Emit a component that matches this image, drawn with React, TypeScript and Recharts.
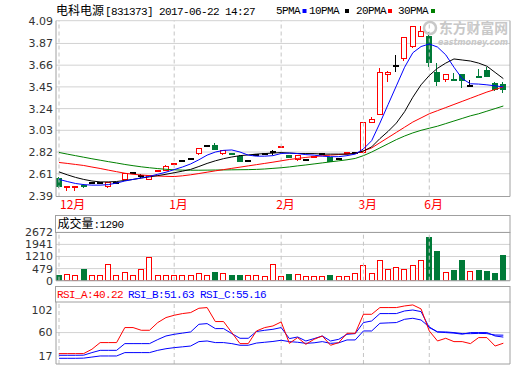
import React from 'react';
import { ComposedChart, Bar, Line, XAxis, YAxis, CartesianGrid, ReferenceLine } from 'recharts';

// ---------- data ----------
const MONTH_IDX = [0, 14, 27, 37, 45];
const MONTH_LABELS = ['12月', '1月', '2月', '3月', '6月'];

const OPEN = [
  2.565, 2.483, 2.483, 2.505, 2.53, 2.53, 2.49, 2.535, 2.555, 2.625,
  2.6, 2.557, 2.638, 2.651, 2.7, 2.74, 2.758, 2.812, 2.887, 2.887,
  2.808, 2.812, 2.782, 2.741, 2.798, 2.81, 2.83, 2.868, 2.79, 2.75,
  2.748, 2.78, 2.806, 2.775, 2.763, 2.818, 2.82, 2.822, 3.115, 3.184,
  3.575, 3.66, 3.726, 3.85, 3.945, 3.94, 3.59, 3.523, 3.528, 3.574,
  3.473, 3.56, 3.612, 3.484, 3.477,
];
const CLOSE = [
  2.49, 2.487, 2.487, 2.5, 2.53, 2.53, 2.53, 2.535, 2.613, 2.625,
  2.6, 2.596, 2.645, 2.683, 2.71, 2.74, 2.758, 2.855, 2.887, 2.845,
  2.836, 2.804, 2.735, 2.741, 2.798, 2.81, 2.83, 2.876, 2.77, 2.79,
  2.748, 2.786, 2.806, 2.732, 2.763, 2.825, 2.82, 3.106, 3.14, 3.59,
  3.597, 3.66, 3.928, 4.04, 3.99, 3.69, 3.51, 3.574, 3.523, 3.516,
  3.473, 3.555, 3.555, 3.43, 3.43,
];
const HIGH = [
  2.575, 2.487, 2.487, 2.515, 2.53, 2.53, 2.53, 2.535, 2.622, 2.625,
  2.605, 2.6, 2.645, 2.69, 2.71, 2.74, 2.758, 2.855, 2.887, 2.91,
  2.836, 2.815, 2.79, 2.741, 2.798, 2.81, 2.84, 2.876, 2.79, 2.79,
  2.748, 2.786, 2.806, 2.775, 2.763, 2.825, 2.82, 3.106, 3.155, 3.63,
  3.6, 3.755, 3.928, 4.04, 4.04, 3.98, 3.68, 3.574, 3.58, 3.574,
  3.516, 3.62, 3.645, 3.5, 3.5,
];
const LOW = [
  2.485, 2.45, 2.45, 2.485, 2.53, 2.53, 2.48, 2.535, 2.555, 2.625,
  2.58, 2.555, 2.638, 2.65, 2.7, 2.74, 2.758, 2.8, 2.887, 2.845,
  2.805, 2.8, 2.735, 2.741, 2.798, 2.81, 2.8, 2.868, 2.77, 2.745,
  2.748, 2.78, 2.806, 2.73, 2.763, 2.818, 2.82, 2.82, 3.106, 3.184,
  3.51, 3.6, 3.71, 3.84, 3.945, 3.65, 3.47, 3.505, 3.523, 3.45,
  3.473, 3.555, 3.555, 3.42, 3.4,
];
const VOLUME = [
  80, 140, 80, 440, 80, 80, 745, 80, 260, 80,
  440, 1150, 80, 80, 80, 80, 80, 200, 80, 280,
  200, 80, 80, 80, 80, 60, 745, 60, 140, 140,
  60, 60, 60, 80, 60, 60, 200, 685, 200, 985,
  485, 565, 485, 685, 985, 2393, 1530, 260, 400, 985,
  320, 400, 340, 220, 1290,
];
const MA5 = [
  2.555, 2.535, 2.516, 2.505, 2.5, 2.5, 2.505, 2.52, 2.54, 2.555,
  2.57, 2.585, 2.605, 2.625, 2.65, 2.675, 2.705, 2.745, 2.79, 2.82,
  2.836, 2.84, 2.82, 2.79, 2.78, 2.78, 2.785, 2.806, 2.81, 2.805,
  2.795, 2.79, 2.78, 2.775, 2.775, 2.785, 2.8, 2.85, 2.93, 3.1,
  3.28, 3.46, 3.64, 3.78, 3.84, 3.865, 3.835, 3.76, 3.64, 3.53,
  3.48, 3.477, 3.47, 3.46, 3.45,
];
const MA10 = [
  2.628, 2.6, 2.575, 2.555, 2.54, 2.531, 2.531, 2.535, 2.545, 2.555,
  2.568, 2.58, 2.592, 2.605, 2.62, 2.635, 2.652, 2.68, 2.71, 2.735,
  2.756, 2.772, 2.785, 2.792, 2.8, 2.805, 2.81, 2.815, 2.81, 2.806,
  2.805, 2.805, 2.8, 2.8, 2.8, 2.8, 2.806, 2.83, 2.87, 2.95,
  3.02, 3.1, 3.21, 3.35, 3.47, 3.56, 3.63, 3.68, 3.72, 3.71,
  3.7, 3.68, 3.65, 3.59, 3.53,
];
const MA20 = [
  2.719, 2.71, 2.7, 2.69, 2.675, 2.661, 2.645, 2.63, 2.615, 2.605,
  2.598, 2.592, 2.588, 2.585, 2.583, 2.59, 2.6, 2.612, 2.625, 2.638,
  2.65, 2.662, 2.674, 2.686, 2.698, 2.71, 2.722, 2.735, 2.748, 2.758,
  2.768, 2.776, 2.784, 2.79, 2.796, 2.8, 2.806, 2.83, 2.86, 2.91,
  2.96, 3.01, 3.06, 3.11, 3.15, 3.19, 3.22, 3.25, 3.28, 3.31,
  3.34, 3.37, 3.4, 3.425, 3.45,
];
const MA30 = [
  2.816, 2.8, 2.785, 2.77, 2.755, 2.741, 2.727, 2.714, 2.7, 2.688,
  2.677, 2.668, 2.66, 2.653, 2.648, 2.645, 2.644, 2.644, 2.645, 2.646,
  2.647, 2.648, 2.649, 2.65, 2.652, 2.656, 2.662, 2.668, 2.676, 2.686,
  2.695, 2.705, 2.715, 2.725, 2.735, 2.745, 2.758, 2.785, 2.82, 2.86,
  2.9, 2.94, 2.975, 3.005, 3.03, 3.05, 3.07, 3.095, 3.12, 3.145,
  3.17, 3.19, 3.215, 3.24, 3.265,
];
const RSI_A = [
  20.9, 20.9, 20.9, 21, 29, 41.4, 41.4, 41.4, 69.3, 69.3,
  64.3, 64.3, 78.6, 87.9, 92.2, 95.3, 97.2, 105.2, 106.5, 80.5,
  80.5, 60, 39.5, 39.5, 63, 69.3, 72.3, 79.8, 40, 50.7,
  38.2, 47.5, 53.7, 36.4, 41.4, 58.7, 58.7, 94, 94, 106.5,
  106.5, 106.5, 109.5, 111.4, 104, 63, 44.4, 49.4, 43.2, 43.2,
  39.5, 50.7, 50.7, 35, 40.22,
];
const RSI_B = [
  17.8, 17.8, 17.8, 18, 22.8, 27, 27, 27, 39.5, 39.5,
  39.5, 39.5, 47, 53.7, 56.8, 59, 61.2, 75.4, 76.7, 67.4,
  67.4, 58.1, 49.4, 49.4, 62, 64.3, 66.1, 69.3, 48.8, 51.8,
  44.4, 48.8, 53.7, 44.4, 47.5, 56.8, 58.1, 78.6, 81.6, 95.3,
  95.3, 95.3, 100.2, 102, 99, 69.3, 61.2, 60, 59, 57,
  60, 60, 60, 53.7, 51.63,
];
const RSI_C = [
  12.2, 12.2, 12.2, 12.5, 14.5, 16.5, 16.5, 16.5, 22.8, 22.8,
  22.8, 22.8, 27, 30, 32, 33.5, 35, 43.2, 44.4, 41.4,
  41.4, 39.5, 36.4, 36.4, 40.5, 42, 43.5, 45.7, 43.2, 42,
  40, 41, 43.2, 40, 41, 46.3, 46.3, 63, 63, 77.3,
  78, 78.6, 84.7, 86.6, 83.4, 70.4, 61.2, 61.2, 60, 58.1,
  58, 58.5, 58.1, 55.5, 55.16,
];

const PRICE_TICK_LABELS = ['2.39', '2.61', '2.82', '3.03', '3.24', '3.45', '3.66', '3.87', '4.09'];
const VOL_TICKS = [-252, 479, 1210, 1941, 2672];
const VOL_TICK_LABELS = ['0', '479', '1210', '1941', '2672'];
const RSI_TICKS = [17, 60, 102];
const RSI_GRID = [60];

const TITLE_NAME = '电科电源';
const TITLE_REST = '[831373] 2017-06-22 14:27';

// ---------- styling ----------
const RED = '#ff0000';
const GREEN = '#007a38';
const LINE_GREEN = '#008000';
const BLUE = '#0000ff';
const BLACK = '#000000';
const GRID = '#d2d2d2';
const VGRID = '#c4c4c4';
const FRAME = '#a0a0a0';
const AXIS_TEXT = '#333333';
const MONO = '"Liberation Mono", "DejaVu Sans Mono", monospace';
const CJK = '"Noto Sans CJK SC", sans-serif';
const SANS = '"DejaVu Sans", sans-serif';

const PRICE_TICKS = PRICE_TICK_LABELS.map(Number);
const PRICE_MIN = PRICE_TICKS[0];
const PRICE_MAX = PRICE_TICKS[PRICE_TICKS.length - 1];
const VOL_MIN = VOL_TICKS[0];
const VOL_MAX = VOL_TICKS[VOL_TICKS.length - 1];
const RSI_DOMAIN: [number, number] = [1.6, 117.4];
const X_DOMAIN: [number, number] = [-0.365, 54.81];

const data = OPEN.map((o, i) => ({
  i,
  open: o,
  high: HIGH[i],
  low: LOW[i],
  close: CLOSE[i],
  vol: VOLUME[i],
  ma5: MA5[i],
  ma10: MA10[i],
  ma20: MA20[i],
  ma30: MA30[i],
  rsiA: RSI_A[i],
  rsiB: RSI_B[i],
  rsiC: RSI_C[i],
}));

function Candle(props: any) {
  const { x, y, width, height, payload } = props;
  if (!payload || !isFinite(x) || !isFinite(y) || !isFinite(height)) return null;
  const top = Math.min(y, y + height);
  const span = Math.abs(height);
  const k = span / (payload.high - PRICE_MIN);
  const py = (v: number) => top + (payload.high - v) * k;
  const { open, close, high, low } = payload;
  const color = close > open ? RED : close < open ? GREEN : BLACK;
  const left = Math.round(x) + 0.5;
  const bw = Math.round(width) - 1;
  const cx = left + Math.floor(bw / 2);
  const yH = Math.round(py(high));
  const yL = Math.round(py(low));
  const bTop = Math.round(py(Math.max(open, close))) + 0.5;
  const bBot = Math.round(py(Math.min(open, close))) + 0.5;
  const bh = Math.max(bBot - bTop, 1);
  const fill = close > open ? '#ffffff' : color;
  return (
    <g>
      {yL - yH > 0 && <line x1={cx} x2={cx} y1={yH} y2={yL + 1} stroke={color} strokeWidth={1} />}
      <rect x={left} y={bTop} width={bw} height={bh} fill={fill} stroke={color} strokeWidth={1} />
    </g>
  );
}

function VolBar(props: any) {
  const { x, y, width, height, payload } = props;
  if (!payload || !isFinite(x) || !isFinite(y) || !isFinite(height)) return null;
  const top = Math.min(y, y + height);
  const bottom = top + Math.abs(height);
  const up = payload.close >= payload.open;
  const color = up ? RED : GREEN;
  const left = Math.round(x) + 0.5;
  const bw = Math.round(width) - 1;
  const t = Math.round(top) + 0.5;
  const bh = Math.max(Math.round(bottom) - Math.round(top) - 1, 1);
  return <rect x={left} y={t} width={bw} height={bh} fill={up ? '#ffffff' : color} stroke={color} strokeWidth={1} />;
}

function MonthTick(props: any) {
  const { x, y, payload, index } = props;
  const pos = MONTH_IDX.indexOf(payload.value);
  const label = pos >= 0 ? MONTH_LABELS[pos] : '';
  const tx = index === 0 ? x + 1 : x - 5;
  return (
    <text x={tx} y={y + 12.5} fill={RED} fontSize={12} fontFamily={CJK} textAnchor="start">
      {label}
    </text>
  );
}

const yTickStyle = { fontSize: 11, fontFamily: SANS, fill: AXIS_TEXT };

export default function App() {
  const vlines = MONTH_IDX.map((m) => (
    <ReferenceLine key={'v' + m} x={m} stroke={VGRID} strokeDasharray="4 3" ifOverflow="extendDomain" />
  ));
  return (
    <div style={{ position: 'absolute', left: 0, top: 0, width: 520, height: 365, background: '#ffffff', overflow: 'hidden' }}>
      {/* main price panel */}
      <div style={{ position: 'absolute', left: 0, top: 0 }}>
        <ComposedChart width={520} height={215} data={data} margin={{ top: 20.7, right: 10, bottom: 0, left: 0 }}>
          <CartesianGrid vertical={false} stroke={GRID} />
          {vlines}
          <XAxis
            type="number"
            dataKey="i"
            domain={X_DOMAIN}
            allowDataOverflow
            ticks={MONTH_IDX}
            interval={0}
            tick={<MonthTick />}
            tickLine={false}
            tickSize={0}
            tickMargin={0}
            height={18.5}
            axisLine={{ stroke: FRAME }}
          />
          <YAxis
            domain={[PRICE_MIN, PRICE_MAX]}
            ticks={PRICE_TICKS}
            interval={0}
            allowDataOverflow
            width={56}
            tickLine={false}
            tickSize={0}
            tickMargin={3}
            tick={yTickStyle}
            tickFormatter={(v: number) => v.toFixed(2)}
            axisLine={{ stroke: FRAME }}
          />
          <ReferenceLine x={X_DOMAIN[1]} stroke={FRAME} />
          <Bar dataKey={(d: any) => [PRICE_MIN, d.high]} barSize={6} shape={<Candle />} isAnimationActive={false} />
          <Line dataKey="ma30" stroke={LINE_GREEN} strokeWidth={1} dot={false} isAnimationActive={false} />
          <Line dataKey="ma20" stroke={RED} strokeWidth={1} dot={false} isAnimationActive={false} />
          <Line dataKey="ma10" stroke={BLACK} strokeWidth={1} dot={false} isAnimationActive={false} />
          <Line dataKey="ma5" stroke={BLUE} strokeWidth={1} dot={false} isAnimationActive={false} />
        </ComposedChart>
      </div>

      {/* volume panel */}
      <div style={{ position: 'absolute', left: 0, top: 226 }}>
        <ComposedChart width={520} height={64} data={data} margin={{ top: 6.3, right: 10, bottom: 0, left: 0 }}>
          <CartesianGrid vertical={false} stroke={GRID} />
          {vlines}
          <XAxis
            type="number"
            dataKey="i"
            domain={X_DOMAIN}
            allowDataOverflow
            ticks={MONTH_IDX}
            tick={false}
            tickLine={false}
            height={9.3}
            axisLine={{ stroke: FRAME }}
          />
          <YAxis
            domain={[VOL_MIN, VOL_MAX]}
            ticks={VOL_TICKS}
            interval={0}
            allowDataOverflow
            width={56}
            tickLine={false}
            tickSize={0}
            tickMargin={3}
            tick={yTickStyle}
            tickFormatter={(v: number) => VOL_TICK_LABELS[VOL_TICKS.indexOf(v)] ?? String(v)}
            axisLine={{ stroke: FRAME }}
          />
          <ReferenceLine x={X_DOMAIN[1]} stroke={FRAME} />
          <Bar dataKey={(d: any) => [VOL_MIN, d.vol]} barSize={6} shape={<VolBar />} isAnimationActive={false} />
        </ComposedChart>
      </div>

      {/* RSI panel */}
      <div style={{ position: 'absolute', left: 0, top: 296 }}>
        <ComposedChart width={520} height={69} data={data} margin={{ top: 5.7, right: 10, bottom: 0, left: 0 }}>
          {RSI_GRID.map((g) => (
            <ReferenceLine key={'h' + g} y={g} stroke={GRID} />
          ))}
          {vlines}
          <XAxis
            type="number"
            dataKey="i"
            domain={X_DOMAIN}
            allowDataOverflow
            ticks={MONTH_IDX}
            tick={false}
            tickLine={false}
            height={1}
            axisLine={{ stroke: FRAME }}
          />
          <YAxis
            domain={RSI_DOMAIN}
            ticks={RSI_TICKS}
            interval={0}
            allowDataOverflow
            width={56}
            tickLine={false}
            tickSize={0}
            tickMargin={3.5}
            tick={yTickStyle}
            axisLine={{ stroke: FRAME }}
          />
          <ReferenceLine x={X_DOMAIN[1]} stroke={FRAME} />
          <Line dataKey="rsiC" stroke={BLUE} strokeWidth={1} dot={false} isAnimationActive={false} />
          <Line dataKey="rsiB" stroke={BLUE} strokeWidth={1} dot={false} isAnimationActive={false} />
          <Line dataKey="rsiA" stroke={RED} strokeWidth={1} dot={false} isAnimationActive={false} />
        </ComposedChart>
      </div>

      {/* texts and header boxes */}
      <svg width={520} height={365} style={{ position: 'absolute', left: 0, top: 0, pointerEvents: 'none' }}>
        {/* watermark */}
        <g fill="#c8c8c8">
          <circle cx={430} cy={28} r={6} fill="none" stroke="#c8c8c8" strokeWidth={2.5} />
          <text x={439} y={33} fontSize={14} fontWeight="bold" fontFamily={CJK} textLength={69} lengthAdjust="spacingAndGlyphs">东方财富网</text>
          <text x={438} y={44.5} fontSize={9} fontWeight="bold" fontStyle="italic" fontFamily={SANS} textLength={70} lengthAdjust="spacingAndGlyphs">eastmoney.com</text>
        </g>
        {/* title */}
        <text x={56} y={14.5} fill="#000">
          <tspan fontFamily={CJK} fontSize={12}>{TITLE_NAME}</tspan>
          <tspan x={105} fontFamily={MONO} fontSize={11} letterSpacing={-0.6}>{TITLE_REST}</tspan>
        </text>
        {/* legend */}
        <g fontFamily={MONO} fontSize={11} letterSpacing={-0.6} fill="#000">
          <text x={276} y={14}>5PMA</text>
          <rect x={302.5} y={9} width={4} height={4} fill={BLUE} />
          <text x={309} y={14}>10PMA</text>
          <rect x={345} y={9} width={4} height={4} fill={BLACK} />
          <text x={356} y={14}>20PMA</text>
          <rect x={388} y={9} width={4} height={4} fill={RED} />
          <text x={398} y={14}>30PMA</text>
          <rect x={431} y={9} width={4} height={4} fill={LINE_GREEN} />
        </g>
        {/* volume header */}
        <rect x={55.5} y={215.5} width={454.5} height={17} fill="none" stroke={FRAME} />
        <text x={57.5} y={227.5} fill="#000">
          <tspan fontFamily={CJK} fontSize={12}>成交量</tspan>
          <tspan x={93.5} fontFamily={MONO} fontSize={11} letterSpacing={-0.6}>{':' + VOLUME[VOLUME.length - 1]}</tspan>
        </text>
        {/* RSI header */}
        <rect x={55.5} y={286.5} width={454.5} height={15.5} fill="none" stroke={FRAME} />
        <g fontFamily={MONO} fontSize={11} letterSpacing={-0.6}>
          <text x={57} y={297.5} fill={RED}>{'RSI_A:' + RSI_A[RSI_A.length - 1].toFixed(2)}</text>
          <text x={128} y={297.5} fill={BLUE}>{'RSI_B:' + RSI_B[RSI_B.length - 1].toFixed(2)}</text>
          <text x={200} y={297.5} fill={BLUE}>{'RSI_C:' + RSI_C[RSI_C.length - 1].toFixed(2)}</text>
        </g>
      </svg>
    </div>
  );
}
